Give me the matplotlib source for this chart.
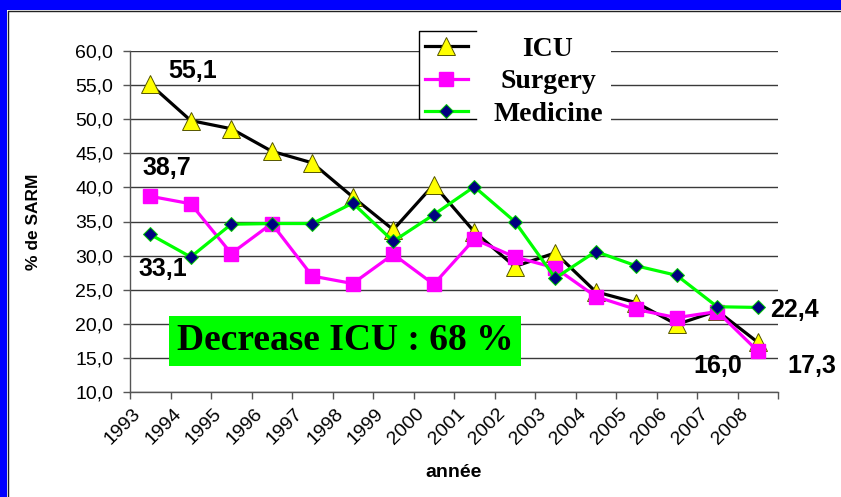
import matplotlib
matplotlib.use("Agg")
import matplotlib.pyplot as plt
import matplotlib.transforms as mtransforms
from matplotlib.lines import Line2D
from matplotlib.patches import Rectangle
from matplotlib.ticker import FuncFormatter, FixedLocator

# values
years = ['1993', '1994', '1995', '1996', '1997', '1998', '1999', '2000',
         '2001', '2002', '2003', '2004', '2005', '2006', '2007', '2008']
icu = [55.1, 49.8, 48.6, 45.3, 43.6, 38.6, 33.8, 40.4,
       33.5, 28.4, 30.4, 24.7, 23.1, 19.9, 21.9, 17.3]
surgery = [38.7, 37.6, 30.3, 34.7, 27.0, 25.9, 30.2, 25.8,
           32.4, 29.8, 28.2, 24.0, 22.1, 20.9, 21.8, 16.0]
medicine = [33.1, 29.8, 34.6, 34.7, 34.7, 37.7, 32.1, 36.0,
            40.1, 35.0, 26.7, 30.6, 28.5, 27.1, 22.5, 22.4]
y_ticks = [10, 15, 20, 25, 30, 35, 40, 45, 50, 55, 60]

W, H = 841, 497
fig = plt.figure(figsize=(W / 100, H / 100), dpi=100)
fig.patch.set_facecolor('white')

# blue frame on top and left edges
fig.patches.append(Rectangle((0, 1 - 10 / H), 1, 10 / H, transform=fig.transFigure,
                             facecolor='#0000FF', edgecolor='none', zorder=0))
fig.patches.append(Rectangle((0, 0), 7 / W, 1, transform=fig.transFigure,
                             facecolor='#0000FF', edgecolor='none', zorder=0))
fig.lines.append(Line2D([7.5 / W, 7.5 / W, 1], [0, 1 - 10.5 / H, 1 - 10.5 / H],
                        transform=fig.transFigure, color='#222222', lw=1))

ax = fig.add_axes([130 / W, (H - 392) / H, 648 / W, 341 / H])

sans = 'Liberation Sans'
serif = 'Liberation Serif'
x = list(range(len(years)))


def fmt(v):
    return f'{v:.1f}'.replace('.', ',')


ax.plot(x, icu, color='black', lw=2.3, marker='^', ms=12.5,
        mfc='#FFFF00', mec='#555500', mew=0.7, label='ICU', zorder=3)
ax.plot(x, surgery, color='#FF00FF', lw=2.3, marker='s', ms=9.5,
        mfc='#FF00FF', mec='#FF00FF', label='Surgery', zorder=4)
ax.plot(x, medicine, color='#00FF00', lw=2.3, marker='D', ms=7.5,
        mfc='#000080', mec='#00CC00', mew=0.7, label='Medicine', zorder=5)

ax.set_xlim(-0.5, len(years) - 0.5)
ax.set_ylim(10, 60)
ax.set_yticks(y_ticks)
ax.yaxis.set_major_formatter(FuncFormatter(lambda v, p: fmt(v)))
ax.grid(axis='y', color='#3a3a3a', lw=1)
ax.set_axisbelow(True)

for s in ['top', 'right']:
    ax.spines[s].set_visible(False)
for s in ['left', 'bottom']:
    ax.spines[s].set_color('#555555')
    ax.spines[s].set_linewidth(1)

# ticks on category boundaries, labels on centres
ax.xaxis.set_major_locator(FixedLocator([i - 0.5 for i in range(len(years) + 1)]))
ax.xaxis.set_major_formatter(FuncFormatter(lambda v, p: ''))
ax.set_xticks(x, minor=True)
ax.set_xticklabels(years, minor=True)
ax.tick_params(axis='x', which='major', length=5, color='#555555', width=1)
ax.tick_params(axis='x', which='minor', length=0, pad=14, labelsize=14)
ax.tick_params(axis='y', length=5, color='#555555', width=1, pad=7, labelsize=14)
for lbl in ax.get_yticklabels():
    lbl.set_fontfamily(sans)
off = mtransforms.ScaledTranslation(-12 / 100, 0, fig.dpi_scale_trans)
for lbl in ax.get_xticklabels(minor=True):
    lbl.set_fontfamily(sans)
    lbl.set_rotation(45)
    lbl.set_ha('right')
    lbl.set_va('center')
    lbl.set_rotation_mode('anchor')
    lbl.set_transform(lbl.get_transform() + off)

ax.set_ylabel('% de SARM', fontsize=12.5, fontweight='bold', family=sans)
ax.yaxis.set_label_coords(-0.137, 0.5)
ax.set_xlabel('année', fontsize=14, fontweight='bold', family=sans)
ax.xaxis.set_label_coords(0.5, -0.212)

# data value annotations
lab = dict(fontsize=18, fontweight='bold', family=sans, clip_on=False)
ax.text(0.45, icu[0] + 2.0, fmt(icu[0]), ha='left', va='center', **lab)
ax.text(0.4, surgery[0] + 4.2, fmt(surgery[0]), ha='center', va='center', **lab)
ax.text(0.3, medicine[0] - 5.1, fmt(medicine[0]), ha='center', va='center', **lab)
ax.text(15.3, medicine[-1] - 0.4, fmt(medicine[-1]), ha='left', va='center', **lab)
ax.text(14.0, surgery[-1] - 2.2, fmt(surgery[-1]), ha='center', va='center', **lab)
ax.text(15.74, icu[-1] - 3.5, fmt(icu[-1]), ha='left', va='center', **lab)

decrease = int((icu[0] - icu[-1]) / icu[0] * 100)
ax.text(4.81, 17.5, f'Decrease ICU : {decrease} %', fontsize=27, fontweight='bold',
        family=serif, ha='center', va='center', zorder=6,
        bbox=dict(boxstyle='square,pad=0.2', facecolor='#00FF00', edgecolor='none'))

leg = ax.legend(loc='upper left', bbox_to_anchor=(419 / W, 1 - 31 / H),
                bbox_transform=fig.transFigure, frameon=True, fancybox=False,
                framealpha=1, facecolor='white', edgecolor='none',
                borderaxespad=0, borderpad=0.2, handlelength=1.55,
                handletextpad=1.0, labelspacing=0.25,
                prop=dict(family=serif, weight='bold', size=20))
leg.set_zorder(10)
fig.lines.append(Line2D([476 / W, 419 / W, 419 / W, 476 / W],
                        [1 - 31 / H, 1 - 31 / H, 1 - 119 / H, 1 - 119 / H],
                        transform=fig.transFigure, color='black', lw=1, zorder=11))

# centre the legend labels on a common column as in the reference
fig.canvas.draw()
for t in leg.get_texts():
    bb = t.get_window_extent()
    dx = 548 - (bb.x0 + bb.x1) / 2
    t.set_x(t.get_position()[0] + dx)

fig.savefig('out.png', dpi=100)
